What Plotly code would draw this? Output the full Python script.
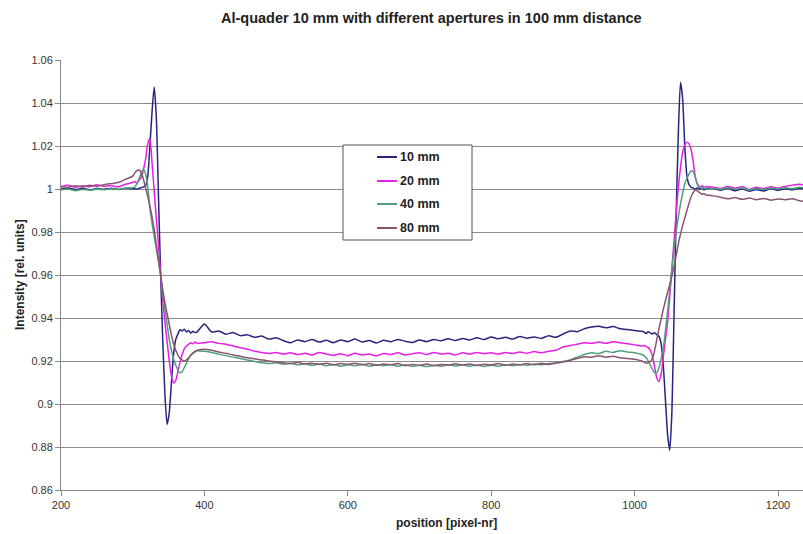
import plotly.graph_objects as go

# ---------------- data ----------------
position = [
    200, 210, 220, 230, 240, 250, 260, 270, 280, 290, 300,
    303, 306, 309, 312, 315, 318, 321, 324, 327, 330, 333, 336, 339, 342, 345,
    348, 351, 354, 357, 360, 363, 366, 369, 372, 375, 378, 381, 384, 387, 390,
    400, 410, 420, 430, 440, 450, 460, 470, 480, 490, 500, 510, 520, 530, 540,
    550, 560, 570, 580, 590, 600, 610, 620, 630, 640, 650, 660, 670, 680, 690,
    700, 710, 720, 730, 740, 750, 760, 770, 780, 790, 800, 810, 820, 830, 840,
    850, 860, 870, 880, 890, 900, 910, 920, 930, 940, 950, 960, 970, 980, 990,
    1000, 1010,
    1013, 1016, 1019, 1022, 1025, 1028, 1031, 1034, 1037, 1040, 1043, 1046, 1049,
    1052, 1055, 1058, 1061, 1064, 1067, 1070, 1073, 1076, 1079, 1082, 1085, 1088,
    1091, 1094, 1097, 1100,
    1110, 1120, 1130, 1140, 1150, 1160, 1170, 1180, 1190, 1200, 1210, 1220, 1230, 1240,
]

i_10mm = [
    1.0000, 1.0004, 0.9998, 1.0003, 0.9996, 1.0002, 0.9999, 1.0004, 0.9998, 1.0003, 1.0001,
    1.0002, 0.9999, 1.0004, 1.0006, 1.0010, 1.0015, 1.0060, 1.0200, 1.0360, 1.0475, 1.0330, 0.9960, 0.9600, 0.9290, 0.9040,
    0.8905, 0.8960, 0.9100, 0.9230, 0.9300, 0.9325, 0.9345, 0.9340, 0.9348, 0.9335, 0.9342, 0.9330, 0.9338, 0.9332, 0.9336,
    0.9372, 0.9335, 0.9340, 0.9325, 0.9332, 0.9318, 0.9322, 0.9310, 0.9316, 0.9302, 0.9308, 0.9295, 0.9285, 0.9298, 0.9290,
    0.9300, 0.9288, 0.9296, 0.9285, 0.9298, 0.9290, 0.9302, 0.9288, 0.9295, 0.9284, 0.9296, 0.9290, 0.9300, 0.9292, 0.9286,
    0.9298, 0.9290, 0.9300, 0.9294, 0.9304, 0.9295, 0.9305, 0.9298, 0.9308, 0.9300, 0.9312, 0.9303, 0.9310, 0.9302, 0.9314,
    0.9306, 0.9312, 0.9305, 0.9318, 0.9310, 0.9325, 0.9340, 0.9336, 0.9350, 0.9358, 0.9362, 0.9355, 0.9360, 0.9350, 0.9346,
    0.9342, 0.9338,
    0.9335, 0.9328, 0.9336, 0.9330, 0.9326, 0.9332, 0.9322, 0.9315, 0.9280, 0.9180, 0.9020, 0.8860, 0.8785,
    0.8960, 0.9420, 0.9880, 1.0260, 1.0495, 1.0420, 1.0200, 1.0060, 1.0020, 1.0008, 1.0004, 1.0000, 1.0006,
    0.9998, 1.0005, 0.9996, 1.0003,
    1.0002, 0.9994, 1.0004, 0.9992, 1.0000, 0.9990, 0.9998, 0.9991, 1.0002, 0.9994, 1.0001, 0.9996, 1.0003, 0.9998,
]

i_20mm = [
    1.0012, 1.0018, 1.0008, 1.0015, 1.0010, 1.0020, 1.0012, 1.0016, 1.0010, 1.0022, 1.0030,
    1.0035, 1.0028, 1.0040, 1.0055, 1.0090, 1.0140, 1.0210, 1.0235, 1.0120, 0.9990, 0.9860, 0.9740, 0.9600, 0.9480, 0.9380,
    0.9290, 0.9200, 0.9130, 0.9098, 0.9110, 0.9150, 0.9195, 0.9230, 0.9258, 0.9270, 0.9278, 0.9285, 0.9280, 0.9288, 0.9282,
    0.9285, 0.9290, 0.9282, 0.9278, 0.9270, 0.9262, 0.9255, 0.9245, 0.9240, 0.9235, 0.9240, 0.9232, 0.9238, 0.9230, 0.9236,
    0.9228, 0.9240, 0.9232, 0.9226, 0.9234, 0.9225, 0.9236, 0.9228, 0.9232, 0.9224, 0.9235, 0.9230, 0.9238, 0.9228, 0.9234,
    0.9238, 0.9230, 0.9240, 0.9232, 0.9236, 0.9228, 0.9238, 0.9232, 0.9240, 0.9234, 0.9238, 0.9232, 0.9240, 0.9235, 0.9242,
    0.9236, 0.9244, 0.9238, 0.9245, 0.9250, 0.9265, 0.9272, 0.9278, 0.9285, 0.9282, 0.9288, 0.9282, 0.9290, 0.9285, 0.9280,
    0.9275, 0.9270,
    0.9272, 0.9268, 0.9262, 0.9250, 0.9220, 0.9170, 0.9120, 0.9105, 0.9140, 0.9220, 0.9300, 0.9380, 0.9500,
    0.9630, 0.9760, 0.9890, 1.0010, 1.0100, 1.0170, 1.0205, 1.0218, 1.0210, 1.0180, 1.0120, 1.0050, 1.0020,
    1.0010, 1.0015, 1.0008, 1.0012,
    1.0008, 1.0002, 1.0012, 1.0004, 1.0010, 0.9998, 1.0008, 1.0002, 1.0010, 1.0004, 1.0012, 1.0018, 1.0022, 1.0015,
]

i_40mm = [
    0.9995, 1.0000, 0.9992, 0.9998, 0.9994, 1.0000, 0.9996, 1.0002, 0.9998, 1.0004, 1.0006,
    1.0010, 1.0025, 1.0050, 1.0075, 1.0092, 1.0070, 1.0010, 0.9910, 0.9840, 0.9780, 0.9720, 0.9660, 0.9600, 0.9510, 0.9440,
    0.9370, 0.9300, 0.9250, 0.9210, 0.9180, 0.9160, 0.9145, 0.9150, 0.9170, 0.9190, 0.9210, 0.9225, 0.9235, 0.9242, 0.9248,
    0.9245, 0.9240, 0.9232, 0.9225, 0.9218, 0.9212, 0.9205, 0.9198, 0.9192, 0.9188, 0.9192, 0.9185, 0.9190, 0.9182, 0.9188,
    0.9180, 0.9186, 0.9178, 0.9184, 0.9176, 0.9182, 0.9178, 0.9185, 0.9176, 0.9182, 0.9178, 0.9184, 0.9176, 0.9182, 0.9175,
    0.9180, 0.9174, 0.9180, 0.9176, 0.9183, 0.9177, 0.9182, 0.9176, 0.9181, 0.9175, 0.9180, 0.9176, 0.9182, 0.9178, 0.9184,
    0.9180, 0.9186, 0.9182, 0.9188, 0.9192, 0.9198, 0.9205, 0.9218, 0.9230, 0.9238, 0.9235, 0.9245, 0.9240, 0.9248, 0.9242,
    0.9238, 0.9230,
    0.9225, 0.9215, 0.9200, 0.9180, 0.9160, 0.9145, 0.9145, 0.9170, 0.9210, 0.9260, 0.9340, 0.9430, 0.9530,
    0.9630, 0.9720, 0.9800, 0.9870, 0.9930, 0.9980, 1.0025, 1.0050, 1.0070, 1.0085, 1.0080, 1.0050, 1.0020,
    1.0008, 1.0002, 1.0006, 0.9998,
    1.0004, 0.9998, 1.0006, 1.0000, 1.0004, 0.9996, 1.0002, 0.9998, 1.0005, 1.0000, 1.0006, 1.0002, 1.0008, 1.0003,
]

i_80mm = [
    1.0010, 1.0008, 1.0015, 1.0010, 1.0018, 1.0012, 1.0020, 1.0025, 1.0030, 1.0045, 1.0060,
    1.0075, 1.0085, 1.0088, 1.0075, 1.0045, 1.0005, 0.9965, 0.9920, 0.9870, 0.9810, 0.9740, 0.9670, 0.9600, 0.9530, 0.9470,
    0.9420, 0.9370, 0.9320, 0.9280, 0.9250, 0.9228, 0.9212, 0.9205, 0.9200, 0.9205, 0.9215, 0.9228, 0.9238, 0.9245, 0.9250,
    0.9255, 0.9250, 0.9242, 0.9236, 0.9228, 0.9222, 0.9215, 0.9210, 0.9205, 0.9200, 0.9196, 0.9192, 0.9188, 0.9194, 0.9186,
    0.9190, 0.9184, 0.9190, 0.9182, 0.9188, 0.9184, 0.9190, 0.9182, 0.9188, 0.9180, 0.9186, 0.9182, 0.9188, 0.9178, 0.9184,
    0.9180, 0.9186, 0.9178, 0.9184, 0.9180, 0.9187, 0.9181, 0.9186, 0.9179, 0.9185, 0.9182, 0.9188, 0.9180, 0.9186, 0.9182,
    0.9188, 0.9183, 0.9189, 0.9184, 0.9190, 0.9195, 0.9202, 0.9212, 0.9220, 0.9218, 0.9225, 0.9218, 0.9222, 0.9215, 0.9212,
    0.9208, 0.9200,
    0.9195, 0.9190, 0.9192, 0.9198, 0.9215, 0.9250, 0.9300, 0.9350, 0.9395, 0.9440, 0.9480, 0.9520, 0.9555,
    0.9595, 0.9640, 0.9690, 0.9745, 0.9790, 0.9830, 0.9865, 0.9900, 0.9935, 0.9965, 0.9985, 0.9995, 0.9990,
    0.9982, 0.9976, 0.9978, 0.9972,
    0.9968, 0.9962, 0.9955, 0.9960, 0.9952, 0.9958, 0.9950, 0.9956, 0.9948, 0.9954, 0.9950, 0.9955, 0.9945, 0.9942,
]

series_names = ["10 mm", "20 mm", "40 mm", "80 mm"]
series_values = [i_10mm, i_20mm, i_40mm, i_80mm]
series_colors = ["#26267f", "#e61ee6", "#4f9f7c", "#8a5470"]

x_ticks = [200, 400, 600, 800, 1000, 1200]
y_ticks = [0.86, 0.88, 0.90, 0.92, 0.94, 0.96, 0.98, 1.00, 1.02, 1.04, 1.06]
y_ticktext = ["0.86", "0.88", "0.9", "0.92", "0.94", "0.96", "0.98", "1", "1.02", "1.04", "1.06"]

title_text = "Al-quader 10 mm with different apertures in 100 mm distance"
x_title = "position [pixel-nr]"
y_title = "Intensity [rel. units]"

# ---------------- figure ----------------
W, H = 803, 534
ML, MR, MT, MB = 61, 0, 60, 44
PW = W - ML - MR
PH = H - MT - MB


def px(xp):
    return (xp - ML) / PW


def py(yp):
    return (H - MB - yp) / PH


fig = go.Figure()
for name, vals, col in zip(series_names, series_values, series_colors):
    fig.add_trace(go.Scatter(x=position, y=vals, mode="lines", name=name,
                             line=dict(color=col, width=1.5, shape="spline", smoothing=0.6)))

font = "Liberation Sans, Arial, sans-serif"

# manual legend box (positions in pixels)
shapes = [dict(type="rect", xref="paper", yref="paper",
               x0=px(343), x1=px(472), y0=py(240), y1=py(145),
               line=dict(color="#555555", width=1), fillcolor="white", layer="above")]
annotations = []
entry_y = [157, 181, 204, 228]
for name, col, ey in zip(series_names, series_colors, entry_y):
    shapes.append(dict(type="line", xref="paper", yref="paper",
                       x0=px(377), x1=px(397), y0=py(ey), y1=py(ey),
                       line=dict(color=col, width=2), layer="above"))
    annotations.append(dict(text=name, xref="paper", yref="paper",
                            x=px(398), y=py(ey), xanchor="left", yanchor="middle",
                            showarrow=False,
                            font=dict(family=font, size=12.5, color="#222222", weight="bold")))

annotations += [
    dict(text=title_text, xref="paper", yref="paper",
         x=px(431), y=py(18),
         xanchor="center", yanchor="middle", showarrow=False,
         font=dict(family=font, size=14.5, color="#222222", weight="bold")),
    dict(text=x_title, xref="paper", yref="paper",
         x=px(446), y=py(523),
         xanchor="center", yanchor="middle", showarrow=False,
         font=dict(family=font, size=12, color="#222222", weight="bold")),
    dict(text=y_title, xref="paper", yref="paper",
         x=px(20), y=py(275),
         xanchor="center", yanchor="middle", showarrow=False, textangle=-90,
         font=dict(family=font, size=12, color="#222222", weight="bold")),
]

fig.update_layout(
    width=W, height=H,
    margin=dict(l=ML, r=MR, t=MT, b=MB, pad=0),
    paper_bgcolor="white", plot_bgcolor="white",
    font=dict(family=font, size=11, color="#333333"),
    showlegend=False,
    xaxis=dict(
        range=[200, 200 + (W - ML) * 200 / 143.4],
        tickvals=x_ticks, ticks="outside", ticklen=5, tickcolor="#888888",
        showgrid=False, zeroline=False,
        showline=True, linecolor="#888888", linewidth=1,
        tickfont=dict(size=11, color="#333333"),
    ),
    yaxis=dict(
        range=[0.86, 1.06],
        tickvals=y_ticks, ticktext=y_ticktext,
        ticks="outside", ticklen=5, tickcolor="#888888",
        showgrid=True, gridcolor="#8c8c8c", gridwidth=1,
        zeroline=False,
        showline=True, linecolor="#888888", linewidth=1,
        tickfont=dict(size=11, color="#333333"),
    ),
    shapes=shapes,
    annotations=annotations,
)

fig.write_html("out.html")
